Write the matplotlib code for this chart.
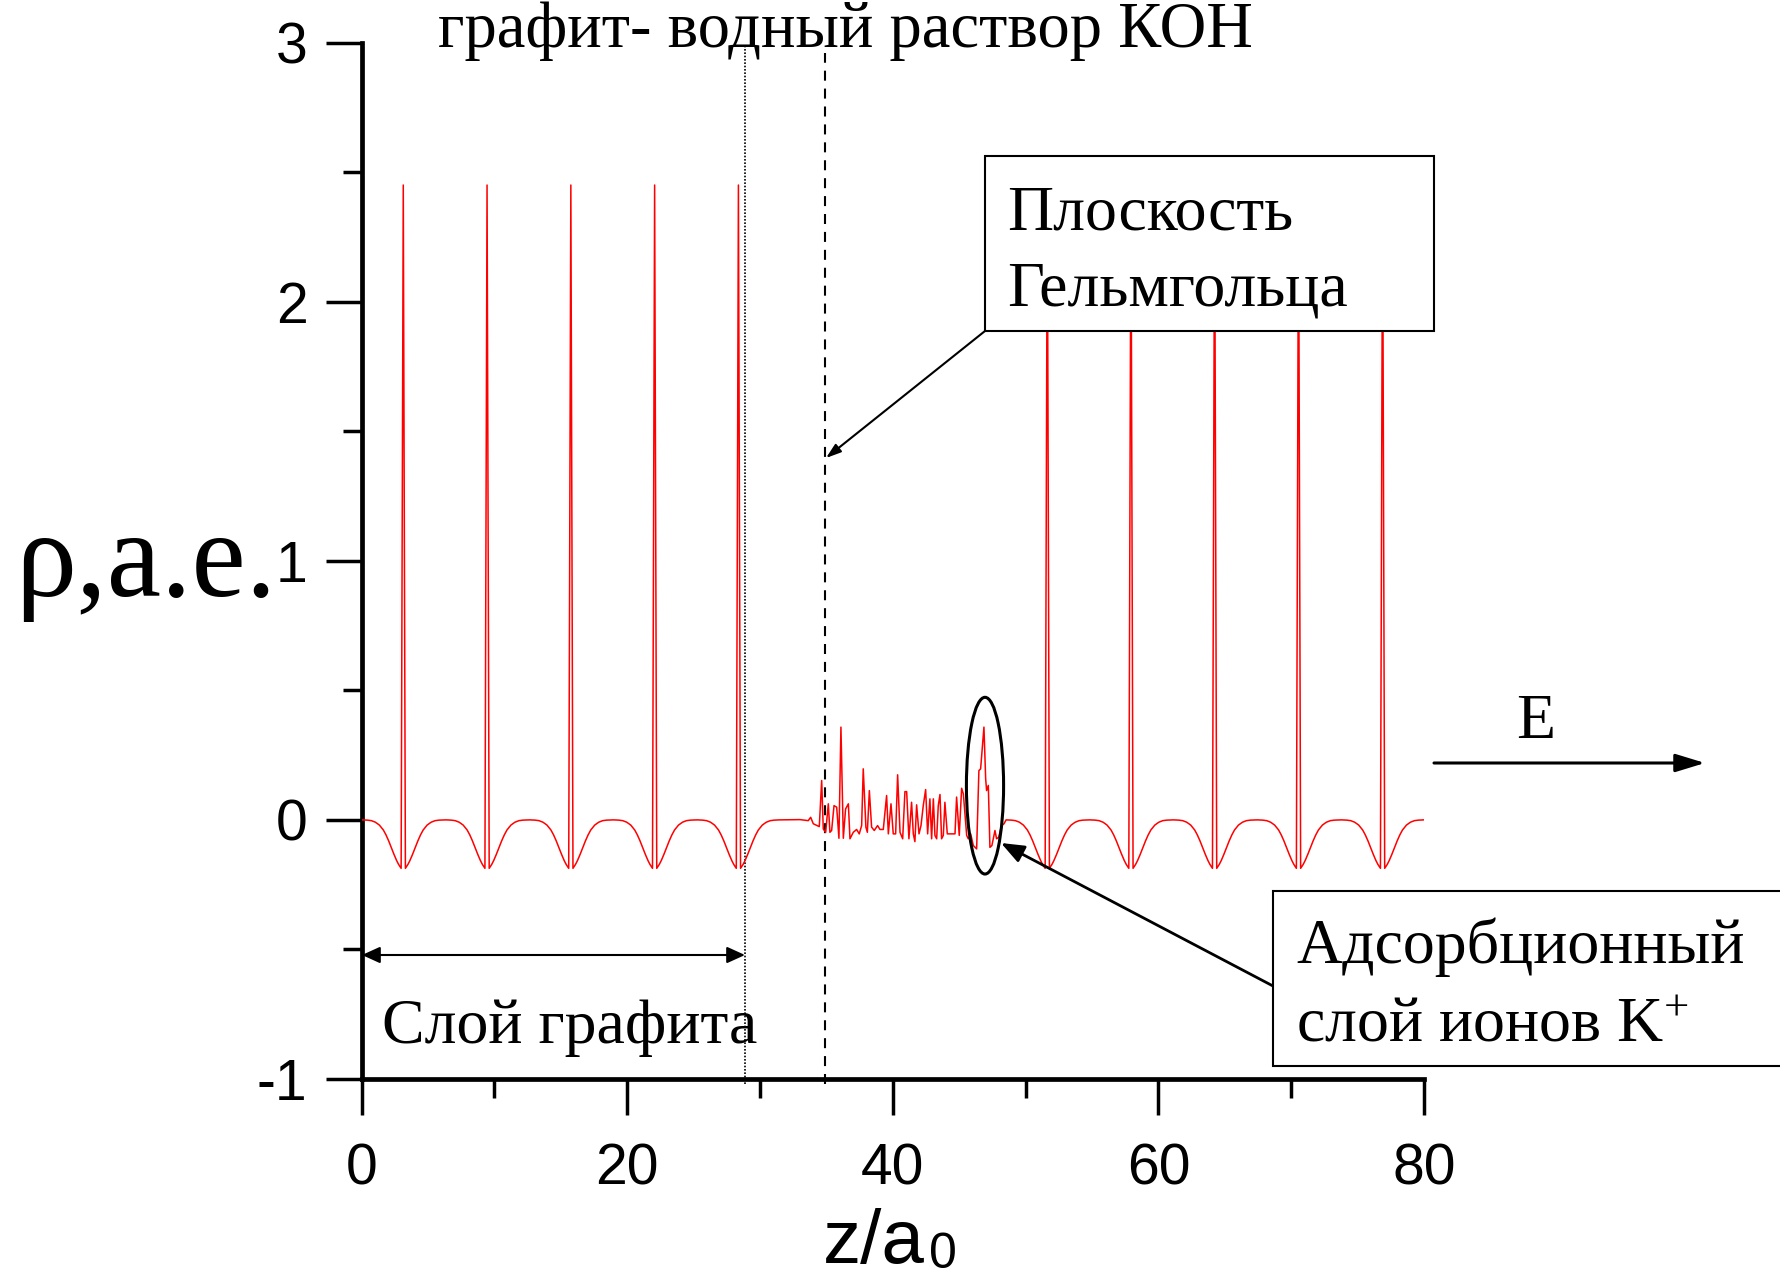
import matplotlib
matplotlib.use("Agg")
import matplotlib.pyplot as plt
from matplotlib.patches import Rectangle, Ellipse, FancyArrowPatch

plt.rcParams['mathtext.fontset'] = 'custom'
plt.rcParams['mathtext.sf'] = 'Liberation Sans'
plt.rcParams['mathtext.rm'] = 'Liberation Serif'
plt.rcParams['mathtext.it'] = 'Liberation Serif:italic'
plt.rcParams['axes.unicode_minus'] = False

# ---- data ----
# positions of graphite layer peaks (z/a0)
peak_z = [3.13, 9.44, 15.75, 22.06, 28.37, 51.63, 57.93, 64.23, 70.55, 76.88]
# shape around one layer: offsets from peak and density values
dip_dz = [-3.1, -2.7, -2.4, -2.1, -1.8, -1.5, -1.3, -1.1, -0.9, -0.7, -0.5, -0.35, -0.16,
          0.0,
          0.16, 0.35, 0.5, 0.7, 0.9, 1.1, 1.3, 1.5, 1.8, 2.1, 2.4, 2.7, 3.1]
dip_rho = [0.0, -0.001, -0.003, -0.009, -0.020, -0.039, -0.058, -0.081, -0.107, -0.133, -0.157, -0.172, -0.187,
           2.45,
           -0.187, -0.172, -0.157, -0.133, -0.107, -0.081, -0.058, -0.039, -0.020, -0.009, -0.003, -0.001, 0.0]
# solution region (water + KOH)
sol_z = [33.01, 33.63, 33.81, 34.01, 34.46, 34.64, 34.76, 34.94, 35.14, 35.26, 35.39, 35.57, 35.77,
         35.94, 36.09, 36.27, 36.44, 36.65, 36.77, 37.02, 37.27, 37.47, 37.65, 37.77, 37.97, 38.08,
         38.23, 38.40, 38.60, 38.85, 39.03, 39.28, 39.53, 39.66, 39.86, 40.03, 40.21, 40.36, 40.54,
         40.74, 40.91, 41.04, 41.21, 41.41, 41.54, 41.66, 41.79, 41.97, 42.12, 42.29, 42.47, 42.62,
         42.79, 42.92, 43.05, 43.17, 43.30, 43.42, 43.55, 43.67, 43.80, 43.92, 44.10, 44.30, 44.50,
         44.68, 44.80, 45.00, 45.18, 45.31, 45.56, 45.68, 45.86, 46.06, 46.31, 46.48, 46.61, 46.73,
         46.86, 46.99, 47.06, 47.19, 47.31, 47.46, 47.69, 47.81, 47.97, 48.19, 48.37]
sol_rho = [0.001, -0.003, 0.010, -0.015, -0.026, 0.152, -0.035, -0.048, 0.062, -0.048, -0.041, 0.055, 0.049,
           -0.071, 0.358, -0.071, 0.042, 0.062, -0.073, -0.048, -0.037, -0.054, -0.022, 0.197, -0.028, -0.048,
           0.113, -0.028, -0.041, -0.022, -0.037, -0.037, 0.094, -0.054, 0.062, -0.054, -0.054, 0.174, -0.048,
           -0.073, 0.109, 0.109, -0.073, 0.068, -0.054, -0.084, 0.058, -0.054, -0.022, 0.055, 0.117, -0.054,
           0.081, -0.073, 0.081, -0.060, -0.073, 0.055, 0.098, -0.073, -0.060, 0.068, -0.054, -0.054, -0.054,
           -0.054, 0.088, -0.060, 0.122, 0.100, -0.060, -0.073, -0.054, -0.099, -0.112, 0.190, 0.197, 0.274,
           0.358, 0.158, 0.113, 0.133, -0.106, -0.099, -0.041, -0.073, -0.067, -0.022, -0.015]

x_ticks = [0, 20, 40, 60, 80]
y_ticks = [-1, 0, 1, 2, 3]

# ---- assemble curve ----
z = [0.0]
rho = [0.0]
for c in peak_z[:5]:
    for d, r in zip(dip_dz, dip_rho):
        z.append(c + d); rho.append(r)
z += sol_z
rho += sol_rho
for c in peak_z[5:]:
    for d, r in zip(dip_dz, dip_rho):
        z.append(c + d); rho.append(r)

W, H = 1781, 1280
fig = plt.figure(figsize=(W / 100, H / 100), dpi=100)

def fx(px):
    return px / W

def fy(py):
    return 1 - py / H

ax = fig.add_axes([fx(361.7), fy(1079), (1424 - 361.7) / W, (1079 - 42.5) / H])
ax.plot(z, rho, color='red', lw=1.1, zorder=3)
ax.set_xlim(0, 80)
ax.set_ylim(-1, 3)
for s in ['top', 'right']:
    ax.spines[s].set_visible(False)
for s in ['left', 'bottom']:
    ax.spines[s].set_linewidth(3.4)
ax.set_xticks(x_ticks)
ax.set_yticks(y_ticks)
ax.set_xticks([10, 30, 50, 70], minor=True)
ax.set_yticks([-0.5, 0.5, 1.5, 2.5], minor=True)
ax.tick_params(which='major', length=26, width=2.5, direction='out', labelsize=41)
ax.tick_params(which='minor', length=14, width=2.5, direction='out')
ax.tick_params(axis='x', which='major', pad=20)
ax.tick_params(axis='y', which='major', pad=13)
for lab in ax.get_xticklabels() + ax.get_yticklabels():
    lab.set_fontfamily('Liberation Sans')

# vertical boundary lines
ax.plot([28.86, 28.86], [-1.02, 2.99], color='black', lw=1.2, linestyle=(0, (1, 1)), clip_on=False, zorder=2)
ax.plot([34.92, 34.92], [-1.02, 2.96], color='black', lw=1.5, linestyle=(0, (4.8, 3.8)), clip_on=False, zorder=2)

# ellipse around adsorbed K+ layer
ax.add_patch(Ellipse((46.94, 0.132), 2.8, 0.682, fill=False, edgecolor='black', lw=2.2, zorder=4))

serif = ['Liberation Serif']

# axis labels
fig.text(fx(15), fy(596), 'ρ,a.e.', family=serif, size=88, va='baseline', ha='left')
fig.text(fx(823), fy(1263), 'z/a', family='Liberation Sans', size=55, va='baseline', ha='left')
fig.text(fx(929), fy(1268), '0', family='Liberation Sans', size=36, va='baseline', ha='left')

# title
fig.text(fx(845), fy(47), 'графит- водный раствор КОН', family=serif, size=46.5, ha='center', va='baseline')

# Helmholtz box
fig.add_artist(Rectangle((fx(985), fy(331)), (1434 - 985) / W, (331 - 156) / H, transform=fig.transFigure,
                         facecolor='white', edgecolor='black', lw=1.5, zorder=5))
fig.text(fx(1007), fy(229), 'Плоскость', family=serif, size=46, va='baseline', zorder=6)
fig.text(fx(1007), fy(305), 'Гельмгольца', family=serif, size=46, va='baseline', zorder=6)

# adsorption box
fig.add_artist(Rectangle((fx(1273), fy(1066)), (1800 - 1273) / W, (1066 - 891) / H, transform=fig.transFigure,
                         facecolor='white', edgecolor='black', lw=1.5, zorder=5))
fig.text(fx(1296), fy(963), 'Адсорбционный', family=serif, size=46, va='baseline', zorder=6)
fig.text(fx(1296), fy(1041), 'слой ионов K$^{+}$', family=serif, size=46, va='baseline', zorder=6)

# graphite layer label and arrow
fig.text(fx(381.5), fy(1043), 'Слой графита', family=serif, size=46, va='baseline')
fig.add_artist(FancyArrowPatch((fx(362), fy(955)), (fx(745), fy(955)), transform=fig.transFigure,
                               arrowstyle='<|-|>,head_length=11,head_width=5', mutation_scale=1,
                               color='black', lw=1.5, shrinkA=0, shrinkB=0))

# field arrow
fig.text(fx(1536), fy(738), 'E', family=serif, size=46, va='baseline', ha='center')
fig.add_artist(FancyArrowPatch((fx(1434), fy(763)), (fx(1705), fy(763)), transform=fig.transFigure,
                               arrowstyle='-|>,head_length=18,head_width=5.5', mutation_scale=1,
                               color='black', lw=2.2, shrinkA=0, shrinkB=0))

# pointer arrows
fig.add_artist(FancyArrowPatch((fx(985), fy(331)), (fx(826), fy(458)), transform=fig.transFigure,
                               arrowstyle='-|>,head_length=9,head_width=3', mutation_scale=1,
                               color='black', lw=1.5, shrinkA=0, shrinkB=0))
fig.add_artist(FancyArrowPatch((fx(1273), fy(986)), (fx(1001), fy(843)), transform=fig.transFigure,
                               arrowstyle='-|>,head_length=14,head_width=5.5', mutation_scale=1,
                               color='black', lw=2.0, shrinkA=0, shrinkB=0))

fig.savefig('out.png', dpi=100)
